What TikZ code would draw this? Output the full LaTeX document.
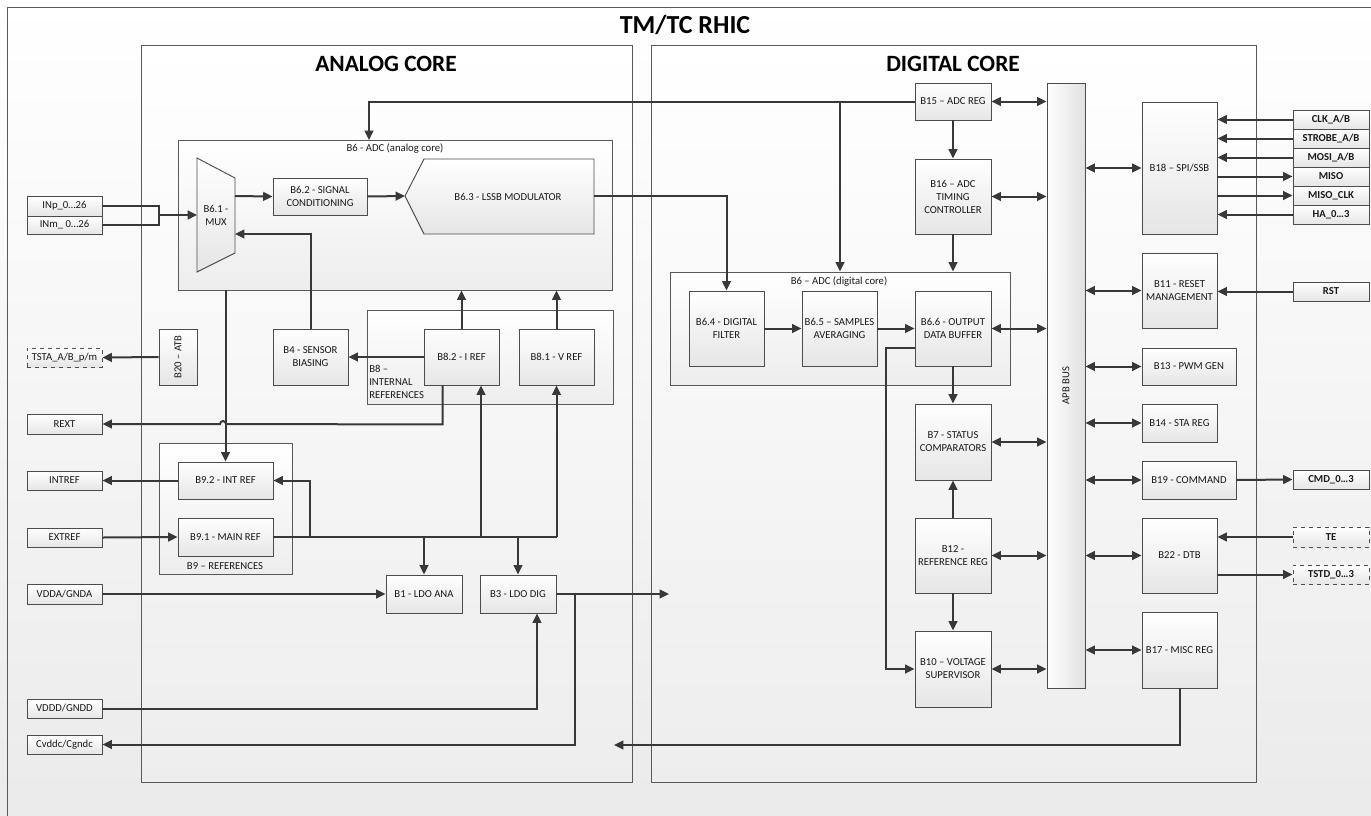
\documentclass[tikz,border=0pt]{standalone}
\usepackage{fontspec}
\setmainfont{Carlito}
\usetikzlibrary{arrows.meta,calc}
\tikzset{
  cframe/.style={draw=black!65, line width=0.6pt},
  cont/.style={draw=black!65, line width=0.7pt, top color=white, bottom color=black!7},
  box/.style={draw=black!70, line width=0.7pt, top color=white, bottom color=black!10, inner sep=1pt, align=center, text=black!90, font=\fontsize{8}{9.75}\selectfont},
  sig/.style={box, font=\bfseries\fontsize{8}{9.75}\selectfont},
  lsig/.style={box},
  dsh/.style={dashed},
  lbl/.style={inner sep=0pt, text=black!90, font=\fontsize{8}{9.75}\selectfont},
  ttl/.style={inner sep=0pt, text=black, font=\bfseries\fontsize{17.5}{20}\selectfont},
  wire/.style={draw=black!78, line width=1.5pt},
  conn/.style={wire, -{Triangle[length=7pt,width=6.5pt]}},
  bidir/.style={wire, {Triangle[length=7pt,width=6.5pt]}-{Triangle[length=7pt,width=6.5pt]}},
}
\newcommand\blk[7][]{%
  \pgfmathsetmacro\bcx{(#3+#5)/2}%
  \pgfmathsetmacro\bcy{(#4+#6)/2}%
  \pgfmathsetmacro\bw{(#5-#3)*0.75}%
  \pgfmathsetmacro\bh{(#6-#4)*0.75}%
  \node[box,minimum width=\bw pt,minimum height=\bh pt,#1] (#2) at (\bcx,\bcy) {#7};}
\begin{document}
\begin{tikzpicture}[x=0.75pt,y=-0.75pt]
\useasboundingbox (0,0) rectangle (1371,815);
\clip (0,0) rectangle (1371,815);
\shade[top color=white,bottom color=black!8] (0,0) rectangle (1371,815);
\draw[cframe] (7,840) -- (7,7) -- (1390,7);
\node[ttl, font=\bfseries\fontsize{19.5}{22}\selectfont] (title) at (685,25) {TM/TC RHIC};

% ---------- containers ----------
\blk[cont]{anacore}{141}{45}{632}{782}{}
\blk[cont]{digcore}{651}{45}{1256}{782}{}
\node[ttl] (anattl) at (386,64) {ANALOG CORE};
\node[ttl] (digttl) at (953,64) {DIGITAL CORE};

\blk[cont]{adca}{178}{140}{612}{290}{}
\node[lbl] (adcalbl) at (395,149) {B6 - ADC (analog core)};
\blk[cont]{b8}{367}{310}{613}{404}{}
\node[lbl, align=left, anchor=north west] (b8lbl) at (369,365) {B8 –\\INTERNAL\\REFERENCES};
\blk[cont]{b9}{159}{443}{292}{574}{}
\node[lbl] (b9lbl) at (225,566) {B9 – REFERENCES};
\blk[cont]{adcd}{670}{272}{1010}{385}{}
\node[lbl] (adcdlbl) at (839,282) {B6 – ADC (digital core)};

% ---------- analog blocks ----------
\path[draw=black!70, line width=0.7pt, top color=white, bottom color=black!10]
  (197,158) -- (235,178) -- (235,253) -- (197,272) -- cycle;
\node[lbl, align=center] (mux) at (216,215) {B6.1 -\\MUX};
\coordinate (muxin) at (197,215);
\coordinate (muxout) at (235,196);
\coordinate (muxfb) at (235,234);
\path[draw=black!70, line width=0.7pt, top color=white, bottom color=black!10]
  (424,159) -- (594,159) -- (594,234) -- (424,234) -- (405,196) -- cycle;
\node[lbl] (mod) at (508,197) {B6.3 - LSSB MODULATOR};
\coordinate (modin) at (405,196);
\coordinate (modout) at (594,196);

\blk{b62}{273}{178}{367}{215}{B6.2 - SIGNAL\\CONDITIONING}
\blk{b4}{273}{329}{348}{385}{B4 - SENSOR\\BIASING}
\blk{b20}{159}{329}{197}{385}{\rotatebox{90}{B20 – ATB}}
\blk{b82}{424}{329}{499}{385}{B8.2 - I REF}
\blk{b81}{519}{329}{594}{385}{B8.1 - V REF}
\blk{b92}{178}{462}{273}{499}{B9.2 - INT REF}
\blk{b91}{178}{518}{273}{556}{B9.1 - MAIN REF}
\blk{b1}{386}{575}{462}{613}{B1 - LDO ANA}
\blk{b3}{480}{575}{556}{613}{B3 - LDO DIG}

% ---------- left pins ----------
\blk[lsig]{inp}{27}{196}{102}{216}{INp\_0…26}
\blk[lsig]{inm}{27}{216}{102}{234}{INm\_ 0…26}
\blk[lsig,dsh]{tsta}{27}{348}{102}{367}{TSTA\_A/B\_p/m}
\blk[lsig]{rext}{27}{414}{102}{434}{REXT}
\blk[lsig]{intref}{27}{471}{102}{490}{INTREF}
\blk[lsig]{extref}{27}{528}{102}{547}{EXTREF}
\blk[lsig]{vdda}{27}{584}{102}{604}{VDDA/GNDA}
\blk[lsig]{vddd}{27}{699}{102}{718}{VDDD/GNDD}
\blk[lsig]{cvddc}{27}{735}{102}{754}{Cvddc/Cgndc}

% ---------- digital blocks ----------
\blk{b15}{915}{83}{991}{120}{B15 – ADC REG}
\blk{b16}{915}{159}{991}{234}{B16 – ADC\\TIMING\\CONTROLLER}
\blk{b64}{689}{291}{764}{366}{B6.4 - DIGITAL\\FILTER}
\blk{b65}{802}{291}{877}{366}{B6.5 – SAMPLES\\AVERAGING}
\blk{b66}{915}{291}{991}{366}{B6.6 - OUTPUT\\DATA BUFFER}
\blk{b7}{915}{404}{991}{480}{B7 - STATUS\\COMPARATORS}
\blk{b12}{915}{518}{991}{593}{B12 -\\REFERENCE REG}
\blk{b10}{915}{631}{991}{707}{B10 – VOLTAGE\\SUPERVISOR}
\blk[left color=white,right color=black!12]{apb}{1047}{83}{1085}{688}{\rotatebox{90}{APB BUS}}
\blk{b18}{1142}{102}{1217}{234}{B18 – SPI/SSB}
\blk{b11}{1142}{253}{1217}{328}{B11 - RESET\\MANAGEMENT}
\blk{b13}{1142}{348}{1236}{385}{B13 - PWM GEN}
\blk{b14}{1142}{404}{1217}{442}{B14 - STA REG}
\blk{b19}{1142}{461}{1236}{499}{B19 - COMMAND}
\blk{b22}{1142}{518}{1217}{593}{B22 - DTB}
\blk{b17}{1142}{612}{1217}{688}{B17 - MISC REG}

% ---------- right pins ----------
\blk[sig]{clk}{1293}{110}{1369}{129}{CLK\_A/B}
\blk[sig]{strobe}{1293}{129}{1369}{148}{STROBE\_A/B}
\blk[sig]{mosi}{1293}{148}{1369}{167}{MOSI\_A/B}
\blk[sig]{miso}{1293}{167}{1369}{186}{MISO}
\blk[sig]{misoclk}{1293}{186}{1369}{205}{MISO\_CLK}
\blk[sig]{ha}{1293}{205}{1369}{224}{HA\_0…3}
\blk[sig]{rst}{1293}{282}{1369}{301}{RST}
\blk[sig]{cmd}{1293}{470}{1369}{489}{CMD\_0…3}
\blk[sig,dsh]{te}{1293}{527}{1369}{547}{TE}
\blk[sig,dsh]{tstd}{1293}{565}{1369}{584}{TSTD\_0…3}

% ---------- analog connectors ----------
\coordinate (jin) at (159,215);
\draw[wire] (inp.east) -| (jin);
\draw[wire] (inm.east) -| (jin);
\draw[conn, line width=2pt] (jin) -- (muxin);
\draw[conn] (muxout) -- (b62.west);
\draw[conn] (b62.east) -- (modin);
\draw[conn] (modout) -| (b64.north);
\draw[conn] (b4.north) |- (muxfb);
\draw[conn] (b20.west) -- (tsta.east);
\draw[conn] (b82.north) -- (b82.north |- adca.south);
\draw[conn] (b81.north) -- (b81.north |- adca.south);
\draw[conn] (b82.west) -- (b4.east);
\coordinate (rx) at ($(b82.south west)+(19,0)$);
\draw[conn] (rx) -- ++(0,39) -- (226,424) arc[start angle=0,end angle=180,radius=2.25pt] -- (rext.east);
\draw[conn] (b92.north |- adca.south) -- (b92.north);
\draw[conn] (b92.west) -- (intref.east);
\draw[conn] (extref.east) -- (b91.west);
\draw[wire] (b91.east) -- (b91.east -| b81.south);
\draw[conn] (b91.east -| b81.south) -- (b81.south);
\coordinate (i82) at ($(b82.south)+(19.5,0)$);
\draw[conn] (b91.east -| i82) -- (i82);
\coordinate (j92) at ($(b91.east)+(37,0)$);
\draw[conn] (j92) |- (b92.east);
\draw[conn] (b91.east -| b1.north) -- (b1.north);
\draw[conn] (b91.east -| b3.north) -- (b3.north);
\draw[conn] (vdda.east) -- (b1.west);
\coordinate (b3in) at ($(b3.south)+(19,0)$);
\draw[conn] (vddd.east) -| (b3in);
\coordinate (dcin) at (669,594);
\draw[conn] (b3.east) -- (dcin);
\draw[conn] ($(b3.east)+(19,0)$) |- (cvddc.east);

% ---------- digital connectors ----------
\coordinate (adcatop) at (369,140);
\draw[conn] (b15.west) -| (adcatop);
\draw[conn] (b15.west -| adcd.north) -- (adcd.north);
\draw[conn] (b15.south) -- (b16.north);
\draw[conn] (b16.south) -- (b16.south |- adcd.north);
\draw[conn] (b64.east) -- (b65.west);
\draw[conn] (b65.east) -- (b66.west);
\draw[conn] (b66.south) -- (b7.north);
\draw[conn] (b12.north) -- (b7.south);
\draw[conn] (b12.south) -- (b10.north);
\draw[conn] ($(b66.west)+(0,19.5)$) -- ++(-29,0) |- (b10.west);
\foreach \n in {b15,b16,b66,b7,b12,b10}
  \draw[bidir] (\n.east) -- (\n.east -| apb.west);
\foreach \n in {b18,b11,b13,b14,b19,b22,b17}
  \draw[bidir] (apb.east |- \n.west) -- (\n.west);
\foreach \n in {clk,strobe,mosi,ha}
  \draw[conn] (\n.west) -- (\n.west -| b18.east);
\foreach \n in {miso,misoclk}
  \draw[conn] (\n.west -| b18.east) -- (\n.west);
\draw[conn] (rst.west) -- (rst.west -| b11.east);
\draw[conn] (b19.east) -- (cmd.west);
\draw[conn] (te.west) -- (te.west -| b22.east);
\draw[conn] (tstd.west -| b22.east) -- (tstd.west);
\coordinate (miscend) at (614,745);
\draw[conn] (b17.south) |- (miscend);
\end{tikzpicture}
\end{document}
